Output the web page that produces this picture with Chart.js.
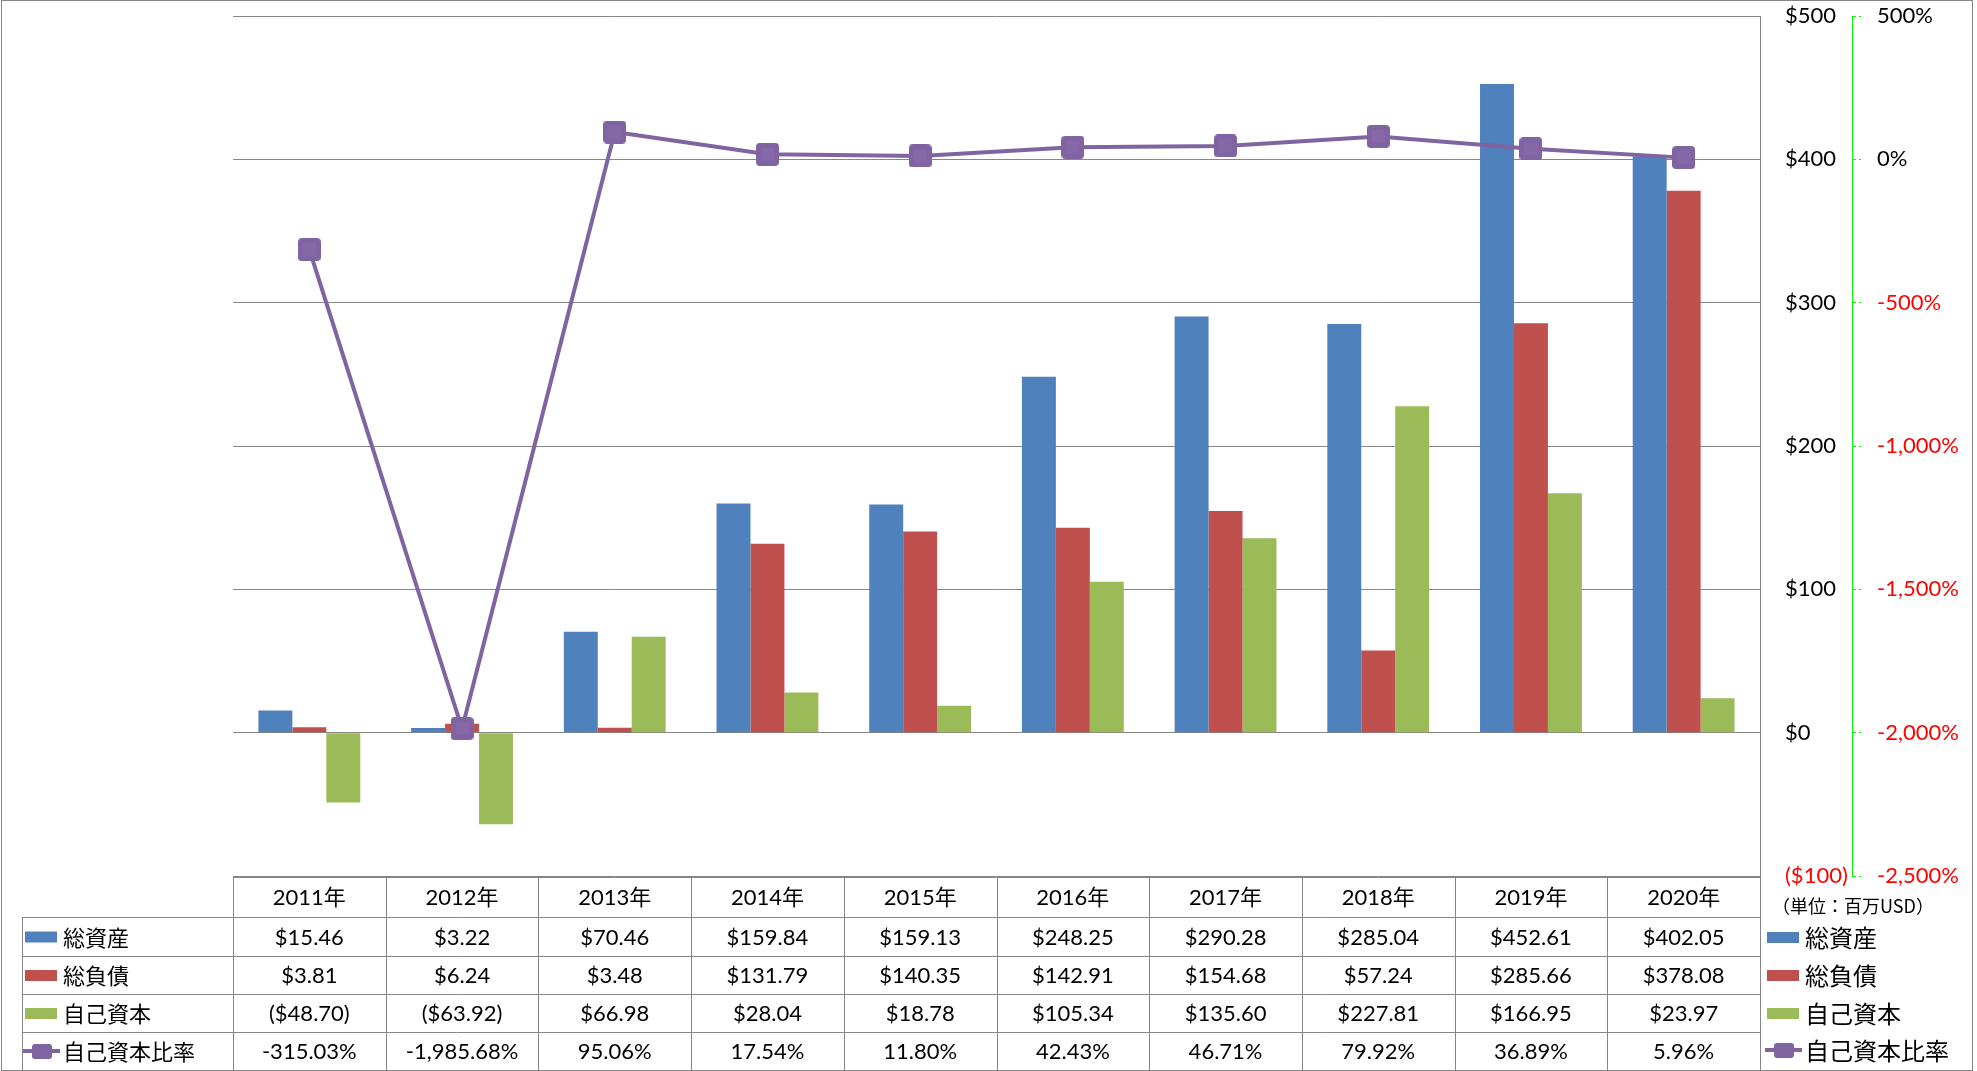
<!DOCTYPE html>
<html>
<head>
<meta charset="utf-8">
<script src="https://cdn.jsdelivr.net/npm/chart.js@4/dist/chart.umd.min.js"></script>
<style>
  html, body { margin: 0; padding: 0; background: #fff; }
  canvas { display: block; }
</style>
</head>
<body>
<canvas id="chart" width="1977" height="1071"></canvas>
<script>
// data
var years = ["2011年", "2012年", "2013年", "2014年", "2015年", "2016年", "2017年", "2018年", "2019年", "2020年"];
var totalAssets = [15.46, 3.22, 70.46, 159.84, 159.13, 248.25, 290.28, 285.04, 452.61, 402.05];
var totalLiabilities = [3.81, 6.24, 3.48, 131.79, 140.35, 142.91, 154.68, 57.24, 285.66, 378.08];
var equity = [-48.70, -63.92, 66.98, 28.04, 18.78, 105.34, 135.60, 227.81, 166.95, 23.97];
var equityRatio = [-315.03, -1985.68, 95.06, 17.54, 11.80, 42.43, 46.71, 79.92, 36.89, 5.96];

var seriesNames = ["総資産", "総負債", "自己資本", "自己資本比率"];
var unitLabel = "（単位：百万USD）";

var BLUE = "#4F81BD", RED = "#C0504D", GREEN = "#9BBB59", PURPLE = "#8064A2";
var GRID = "#868686";
var FONT = '"Lato", "Noto Sans CJK JP", sans-serif';

function money(v) {
  return v < 0 ? "($" + (-v).toFixed(2) + ")" : "$" + v.toFixed(2);
}
function pct(v) {
  return v.toLocaleString("en-US", { minimumFractionDigits: 2, maximumFractionDigits: 2 }) + "%";
}

// rounded square marker like excel's
var marker = document.createElement("canvas");
marker.width = 23;
marker.height = 23;
(function () {
  var m = marker.getContext("2d");
  m.fillStyle = PURPLE;
  m.beginPath();
  m.roundRect(0, 0, 23, 23, 4);
  m.fill();
  m.fillStyle = "#8668a8";
  m.fillRect(5, 5, 13, 13);
})();

// draws the data table under the plot and the legend on the right
var tablePlugin = {
  id: "dataTable",
  beforeDraw: function (chart) {
    var ctx = chart.ctx;
    ctx.save();
    ctx.fillStyle = "#fff";
    ctx.fillRect(0, 0, chart.width, chart.height);
    ctx.restore();
  },
  afterDraw: function (chart) {
    var ctx = chart.ctx;
    var area = chart.chartArea;
    var xs = chart.scales.x;
    var n = years.length;
    var colW = (area.right - area.left) / n;
    var rowY = [877, 917, 956, 994, 1032, 1070];
    var leftX = 22;

    ctx.save();
    ctx.strokeStyle = GRID;
    ctx.lineWidth = 1;

    // horizontal lines
    ctx.beginPath();
    ctx.moveTo(area.left, rowY[0] + 0.5);
    ctx.lineTo(area.right, rowY[0] + 0.5);
    for (var r = 1; r < rowY.length - 1; r++) {
      ctx.moveTo(leftX, rowY[r] + 0.5);
      ctx.lineTo(area.right, rowY[r] + 0.5);
    }
    // vertical lines
    ctx.moveTo(leftX + 0.5, rowY[1]);
    ctx.lineTo(leftX + 0.5, rowY[5]);
    for (var c = 0; c < n; c++) {
      var lx = Math.round(area.left + c * colW) + 0.5;
      ctx.moveTo(lx, rowY[0]);
      ctx.lineTo(lx, rowY[5]);
    }
    ctx.moveTo(Math.round(area.right) + 0.5, area.top);
    ctx.lineTo(Math.round(area.right) + 0.5, rowY[5]);
    ctx.stroke();

    // outer frame
    ctx.strokeRect(1.5, 0.5, 1971, 1070);

    // cell text
    ctx.fillStyle = "#000";
    ctx.textAlign = "center";
    ctx.textBaseline = "middle";
    ctx.font = "22px " + FONT;
    var rows = [totalAssets.map(money), totalLiabilities.map(money), equity.map(money), equityRatio.map(pct)];
    for (var i = 0; i < n; i++) {
      var cx = xs.getPixelForValue(i);
      ctx.fillText(years[i], cx, (rowY[0] + rowY[1]) / 2 + 1);
      for (var k = 0; k < rows.length; k++) {
        ctx.fillText(rows[k][i], cx, (rowY[k + 1] + rowY[k + 2]) / 2 + 1);
      }
    }

    // legend keys, left in the table and right of the plot
    var colors = [BLUE, RED, GREEN];
    function key(x, y, idx, size) {
      if (idx < 3) {
        ctx.fillStyle = colors[idx];
        ctx.fillRect(x, y - 5, 32, 11);
      } else {
        ctx.strokeStyle = PURPLE;
        ctx.lineWidth = 4;
        ctx.beginPath();
        ctx.moveTo(x - 2, y);
        ctx.lineTo(x + 35, y);
        ctx.stroke();
        ctx.fillStyle = PURPLE;
        ctx.beginPath();
        ctx.roundRect(x + 7, y - 7, 20, 15, 3);
        ctx.fill();
      }
      ctx.fillStyle = "#000";
      ctx.textAlign = "left";
      ctx.font = size + 'px "Noto Sans CJK JP", sans-serif';
      ctx.fillText(seriesNames[idx], x + 38, y + 1);
    }
    for (var s = 0; s < 4; s++) {
      var cy = (rowY[s + 1] + rowY[s + 2]) / 2;
      key(25, cy, s, 22);
    }
    var legY = [937, 975, 1013, 1050];
    for (var s2 = 0; s2 < 4; s2++) {
      key(1767, legY[s2], s2, 24);
    }

    ctx.fillStyle = "#000";
    ctx.textAlign = "left";
    ctx.font = '18px "Noto Sans CJK JP", sans-serif';
    ctx.fillText(unitLabel, 1772, 906);
    ctx.restore();
  }
};

function noPad(s) {
  s.paddingTop = 0;
  s.paddingBottom = 0;
}

new Chart(document.getElementById("chart"), {
  type: "bar",
  data: {
    labels: years,
    datasets: [
      {
        type: "line",
        label: seriesNames[3],
        data: equityRatio,
        yAxisID: "y1",
        borderColor: PURPLE,
        backgroundColor: PURPLE,
        borderWidth: 4,
        pointStyle: marker,
        pointRadius: 12,
        tension: 0,
        order: 0
      },
      { label: seriesNames[0], data: totalAssets, backgroundColor: BLUE, yAxisID: "y", order: 1 },
      { label: seriesNames[1], data: totalLiabilities, backgroundColor: RED, yAxisID: "y", order: 1 },
      { label: seriesNames[2], data: equity, backgroundColor: GREEN, yAxisID: "y", order: 1 }
    ]
  },
  options: {
    responsive: false,
    animation: false,
    devicePixelRatio: 1,
    layout: { padding: { left: 233, top: 15, bottom: 195, right: 5 } },
    datasets: {
      bar: { categoryPercentage: 0.667, barPercentage: 1.0 }
    },
    plugins: {
      legend: { display: false },
      tooltip: { enabled: false }
    },
    scales: {
      x: {
        display: false,
        offset: true
      },
      y: {
        position: "right",
        weight: 0,
        min: -100,
        max: 500,
        ticks: {
          stepSize: 100,
          padding: 25,
          font: { size: 22, family: FONT },
          color: function (c) { return c.tick.value < 0 ? "#ff0000" : "#000"; },
          callback: function (v) { return v < 0 ? "($" + (-v) + ")" : "$" + v; }
        },
        grid: { color: GRID, drawTicks: false },
        border: { display: true, color: GRID },
        afterFit: function (s) { s.width = 92; noPad(s); }
      },
      y1: {
        position: "right",
        weight: 1,
        min: -2500,
        max: 500,
        ticks: {
          stepSize: 500,
          padding: 16,
          font: { size: 22, family: FONT },
          color: function (c) { return c.tick.value < 0 ? "#ff0000" : "#000"; },
          callback: function (v) { return v.toLocaleString("en-US") + "%"; }
        },
        grid: { drawOnChartArea: false, drawTicks: true, tickLength: 9, color: "#00ff00", tickBorderDash: [3, 3] },
        border: { display: true, color: "#00ff00", dash: [4, 3] },
        afterFit: function (s) { s.width = 120; noPad(s); }
      }
    }
  },
  plugins: [tablePlugin]
});
</script>
</body>
</html>
